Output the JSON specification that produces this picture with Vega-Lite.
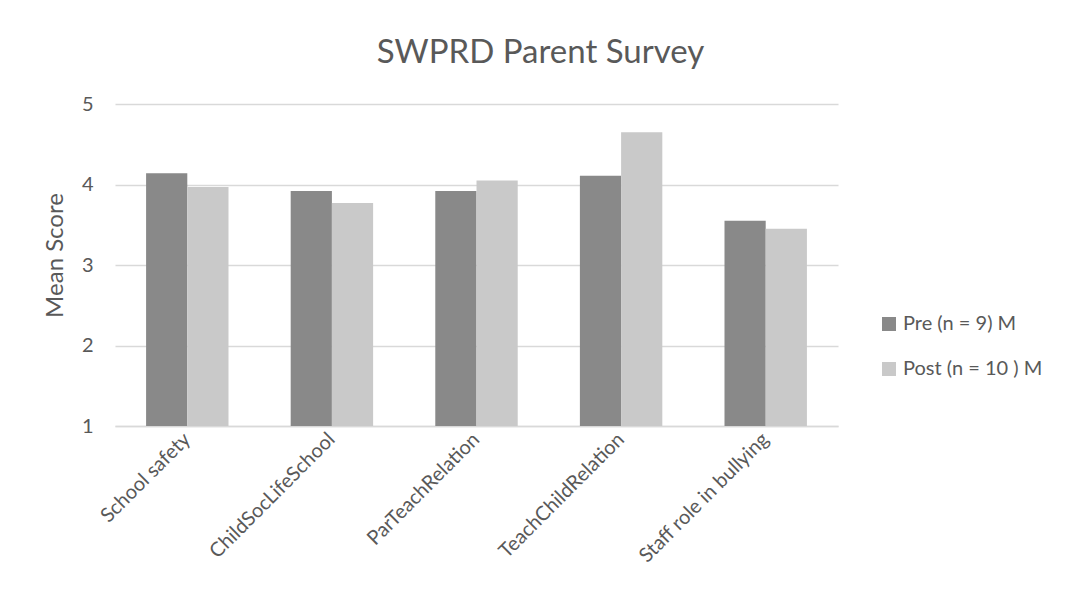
{
  "$schema": "https://vega.github.io/schema/vega-lite/v6.json",
  "width": 723,
  "height": 322,
  "autosize": {"type": "none"},
  "padding": {"left": 115, "top": 104, "right": 232, "bottom": 187},
  "background": "white",
  "title": {
    "text": "SWPRD Parent Survey",
    "font": "Lato",
    "fontSize": 33,
    "fontWeight": "normal",
    "color": "#595959",
    "anchor": "middle",
    "baseline": "alphabetic",
    "offset": -2,
    "dx": 64
  },
  "data": {
    "values": [
      {"category": "School safety", "series": "Pre (n = 9) M", "score": 4.14},
      {"category": "School safety", "series": "Post (n = 10 ) M", "score": 3.97},
      {"category": "ChildSocLifeSchool", "series": "Pre (n = 9) M", "score": 3.92},
      {"category": "ChildSocLifeSchool", "series": "Post (n = 10 ) M", "score": 3.77},
      {"category": "ParTeachRelation", "series": "Pre (n = 9) M", "score": 3.92},
      {"category": "ParTeachRelation", "series": "Post (n = 10 ) M", "score": 4.05},
      {"category": "TeachChildRelation", "series": "Pre (n = 9) M", "score": 4.11},
      {"category": "TeachChildRelation", "series": "Post (n = 10 ) M", "score": 4.65},
      {"category": "Staff role in bullying", "series": "Pre (n = 9) M", "score": 3.55},
      {"category": "Staff role in bullying", "series": "Post (n = 10 ) M", "score": 3.45}
    ]
  },
  "mark": {"type": "bar", "clip": true},
  "encoding": {
    "x": {
      "field": "category",
      "type": "nominal",
      "sort": ["School safety", "ChildSocLifeSchool", "ParTeachRelation", "TeachChildRelation", "Staff role in bullying"],
      "scale": {"paddingInner": 0.43, "paddingOuter": 0.215},
      "axis": {
        "title": null,
        "labelAngle": -45,
        "labelAlign": "right",
        "labelBaseline": "middle",
        "labelPadding": 10,
        "labelFont": "Lato",
        "labelFontSize": 20,
        "labelColor": "#595959",
        "ticks": false,
        "domainColor": "#D9D9D9",
        "domainWidth": 1.5
      }
    },
    "xOffset": {
      "field": "series",
      "type": "nominal",
      "sort": ["Pre (n = 9) M", "Post (n = 10 ) M"],
      "scale": {"paddingInner": 0, "paddingOuter": 0}
    },
    "y": {
      "field": "score",
      "type": "quantitative",
      "scale": {"domain": [1, 5], "nice": false, "zero": false},
      "axis": {
        "title": "Mean Score",
        "titleFont": "Lato",
        "titleFontSize": 24,
        "titleFontWeight": "normal",
        "titleColor": "#595959",
        "titlePadding": 14,
        "titleY": 151,
        "values": [1, 2, 3, 4, 5],
        "format": "d",
        "labelFont": "Lato",
        "labelFontSize": 20,
        "labelColor": "#595959",
        "labelPadding": 22,
        "ticks": false,
        "domain": false,
        "grid": true,
        "gridColor": "#D9D9D9",
        "gridWidth": 1.5
      }
    },
    "color": {
      "field": "series",
      "type": "nominal",
      "sort": ["Pre (n = 9) M", "Post (n = 10 ) M"],
      "scale": {"range": ["#898989", "#C9C9C9"]},
      "legend": {
        "title": null,
        "orient": "none",
        "legendX": 764,
        "legendY": 210,
        "symbolType": "square",
        "symbolSize": 196,
        "symbolStrokeWidth": 0,
        "rowPadding": 25,
        "labelFont": "Lato",
        "labelFontSize": 20,
        "labelColor": "#595959",
        "labelOffset": 4
      }
    }
  },
  "config": {"view": {"stroke": null}}
}
